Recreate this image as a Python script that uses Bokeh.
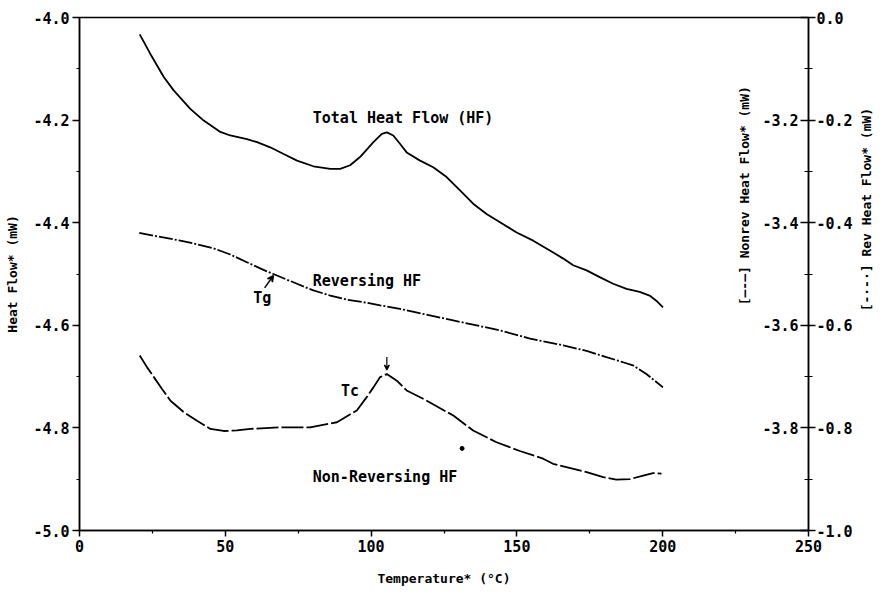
from bokeh.plotting import figure
from bokeh.models import Range1d, LinearAxis, FixedTicker, PrintfTickFormatter, Label, Arrow, VeeHead
from bokeh.core.properties import value
from bokeh.embed import file_html
from bokeh.resources import INLINE
import math

# ---- data ----
temp_total = [20.65, 24.3, 28.9, 32.3, 38.0, 42.6, 48.3, 51.7, 57.4, 60.9, 65.4, 70.0, 74.6, 80.2,
              86.0, 89.4, 92.8, 96.2, 100.8, 103.7, 105.4, 107.6, 109.9, 112.2, 116.8, 121.3,
              125.9, 130.5, 135.0, 139.6, 144.2, 149.9, 155.6, 161.3, 165.9, 169.3, 173.9, 178.4,
              183.0, 187.6, 192.1, 195.5, 197.8, 200.1]
total_hf = [-4.033, -4.071, -4.116, -4.142, -4.178, -4.201, -4.223, -4.230, -4.237, -4.243, -4.253,
            -4.266, -4.279, -4.290, -4.295, -4.295, -4.288, -4.272, -4.243, -4.227, -4.224, -4.230,
            -4.246, -4.263, -4.279, -4.292, -4.311, -4.337, -4.363, -4.383, -4.399, -4.419, -4.435,
            -4.454, -4.470, -4.483, -4.493, -4.506, -4.519, -4.529, -4.535, -4.542, -4.552, -4.565]

temp_rev = [20.5, 27.0, 34.6, 40.3, 46.0, 51.7, 57.4, 63.1, 66.5, 71.1, 74.6, 80.2, 86.0, 91.7,
            97.4, 103.1, 109.9, 127.0, 144.2, 154.5, 165.9, 173.9, 180.7, 186.4, 189.8, 194.4, 200.1]
rev_hf = [-0.420, -0.427, -0.435, -0.442, -0.450, -0.462, -0.477, -0.492, -0.500, -0.511, -0.519,
          -0.532, -0.542, -0.550, -0.555, -0.561, -0.568, -0.589, -0.610, -0.626, -0.639, -0.650,
          -0.662, -0.672, -0.678, -0.695, -0.721]

temp_nonrev = [20.65, 23.2, 25.5, 28.3, 31.2, 35.7, 40.3, 44.9, 49.4, 54.0, 58.6, 68.8, 79.1, 88.3,
               95.1, 98.5, 100.8, 103.1, 105.4, 108.8, 112.2, 119.1, 128.2, 135.0, 143.0, 151.0,
               159.0, 162.4, 173.9, 179.6, 184.1, 188.7, 193.3, 196.7, 199.6]
nonrev_hf = [-3.659, -3.682, -3.701, -3.724, -3.747, -3.769, -3.786, -3.802, -3.806, -3.805, -3.802,
             -3.799, -3.799, -3.789, -3.766, -3.740, -3.721, -3.701, -3.695, -3.708, -3.727, -3.747,
             -3.776, -3.805, -3.828, -3.845, -3.860, -3.870, -3.886, -3.896, -3.901, -3.900, -3.893,
             -3.888, -3.889]

x_ticks = [0, 50, 100, 150, 200, 250]
x_minor = [25, 75, 125, 175, 225]
left_ticks = [-5.0, -4.8, -4.6, -4.4, -4.2, -4.0]
left_minor = [-4.9, -4.7, -4.5, -4.3, -4.1]
rev_ticks = [-1.0, -0.8, -0.6, -0.4, -0.2, 0.0]
rev_minor = [-0.9, -0.7, -0.5, -0.3, -0.1]
nonrev_ticks = [-3.8, -3.6, -3.4, -3.2]
nonrev_labels = ["-3.8", "-3.6", "-3.4", "-3.2"]

FONT = "DejaVu Sans Mono"
NB = "\u00a0"

p = figure(width=884, height=599, x_range=Range1d(0, 250), y_range=Range1d(-5.0, -4.0),
           output_backend="svg", toolbar_location=None,
           min_border_left=79, min_border_right=75, min_border_top=17, min_border_bottom=69)
p.extra_y_ranges = {"rev": Range1d(-1.0, 0.0), "nonrev": Range1d(-4.0, -3.0)}
p.grid.visible = False
p.outline_line_color = "black"
p.outline_line_width = 1.5
p.background_fill_color = "white"
p.border_fill_color = "white"

def style(ax):
    ax.axis_line_width = 1.5
    ax.axis_line_color = "black"
    ax.major_tick_line_width = 1.5
    ax.minor_tick_line_width = 1.2
    ax.major_label_text_font = FONT
    ax.major_label_text_font_size = "15px"
    ax.major_label_text_font_style = "bold"
    ax.major_label_text_color = "black"
    ax.axis_label_text_font = FONT
    ax.axis_label_text_font_size = "13px"
    ax.axis_label_text_font_style = "bold"
    ax.axis_label_text_color = "black"

xa = p.xaxis[0]
xa.ticker = FixedTicker(ticks=x_ticks, minor_ticks=x_minor)
xa.formatter = PrintfTickFormatter(format="%d")
xa.major_tick_out = 6
xa.major_tick_in = 0
xa.minor_tick_out = 3
xa.minor_tick_in = 0
xa.major_label_standoff = 3
xa.axis_label = "Temperature* (°C)"
xa.axis_label_standoff = 16
style(xa)

ya = p.yaxis[0]
ya.ticker = FixedTicker(ticks=left_ticks, minor_ticks=left_minor)
ya.formatter = PrintfTickFormatter(format="%.1f")
ya.major_tick_out = 7
ya.major_tick_in = 0
ya.minor_tick_out = 3
ya.minor_tick_in = 0
ya.major_label_standoff = 3
ya.axis_label = "Heat Flow* (mW)"
ya.axis_label_standoff = 10
style(ya)

ra = LinearAxis(y_range_name="rev", ticker=FixedTicker(ticks=rev_ticks, minor_ticks=rev_minor),
                formatter=PrintfTickFormatter(format="%.1f"))
ra.major_tick_out = 7
ra.major_tick_in = 8
ra.minor_tick_out = 4
ra.minor_tick_in = 4
ra.major_label_standoff = 1
ra.axis_label = NB * 28 + "[-·-·] Rev Heat Flow* (mW)"
ra.axis_label_standoff = 11
ra.axis_label_orientation = math.pi / 2
if "axis_label_align" in ra.properties():
    ra.axis_label_align = "start"
style(ra)
p.add_layout(ra, "right")

# curves
p.line(temp_total, total_hf, line_color="black", line_width=1.8)
p.line(temp_rev, rev_hf, y_range_name="rev", line_color="black", line_width=1.8,
       line_dash="14 2 2 2")
p.line(temp_nonrev, nonrev_hf, y_range_name="nonrev", line_color="black", line_width=1.8,
       line_dash="22 3")

# nonrev tick labels inside the frame
p.text(x=[250] * len(nonrev_ticks), y=nonrev_ticks, text=nonrev_labels, y_range_name="nonrev",
       x_offset=-10, text_align="right", text_baseline="middle",
       text_font=value(FONT), text_font_size="15px", text_font_style="bold", text_color="black")

# annotations
p.text(x=[80, 80, 80], y=[-4.195, -4.513, -4.895],
       text=["Total Heat Flow (HF)", "Reversing HF", "Non-Reversing HF"],
       text_align="left", text_baseline="middle",
       text_font=value(FONT), text_font_size="15px", text_font_style="bold", text_color="black")
p.text(x=[62.7, 92.8], y=[-4.546, -4.729], text=["Tg", "Tc"],
       text_align="center", text_baseline="middle",
       text_font=value(FONT), text_font_size="15px", text_font_style="bold", text_color="black")

p.add_layout(Arrow(end=VeeHead(size=6, line_width=1.5), x_start=63.5, y_start=-4.527,
                   x_end=66.5, y_end=-4.503, line_width=1.5))
p.add_layout(Arrow(end=VeeHead(size=5, line_width=1.2), x_start=105.4, y_start=-4.662,
                   x_end=105.4, y_end=-4.687, line_width=1.2))
p.scatter([131.2], [-4.840], size=4, color="black")

# nonrev axis title inside the frame
p.add_layout(Label(x=228.0, y=-4.561, text="[—-—] Nonrev Heat Flow* (mW)", angle=math.pi / 2,
                   text_align="left", text_baseline="middle", text_font=FONT,
                   text_font_size="13px", text_font_style="bold", text_color="black"))

open("out.html", "w").write(file_html(p, INLINE))
